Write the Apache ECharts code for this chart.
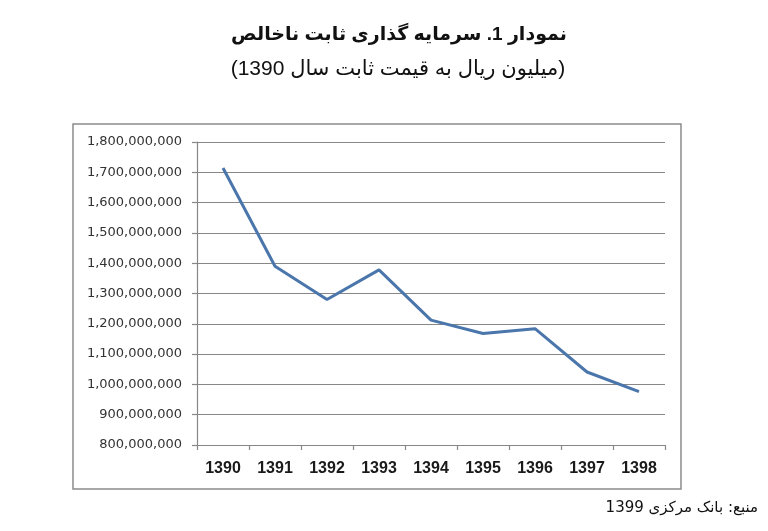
<!DOCTYPE html>
<html>
<head>
<meta charset="utf-8">
<script src="https://cdn.jsdelivr.net/npm/echarts@6/dist/echarts.min.js"></script>
<style>
html,body{margin:0;padding:0;background:#fff;}
#chart{width:768px;height:531px;}
</style>
</head>
<body>
<div id="chart"></div>
<script>
var titleText = 'نمودار 1. سرمایه گذاری ثابت ناخالص';
var subtitleText = '(میلیون ریال به قیمت ثابت سال 1390)';
var sourceText = 'منبع: بانک مرکزی 1399';

var years = ['1390', '1391', '1392', '1393', '1394', '1395', '1396', '1397', '1398'];
var investment = [1714000000, 1390000000, 1280000000, 1378000000, 1212000000, 1168000000, 1184000000, 1041000000, 976000000];
var yMin = 800000000;
var yMax = 1800000000;
var yStep = 100000000;

var chart = echarts.init(document.getElementById('chart'), null, {renderer: 'canvas'});
var axisGray = '#878787';
chart.setOption({
  backgroundColor: '#ffffff',
  animation: false,
  graphic: [
    {type: 'rect', shape: {x: 73, y: 124, width: 608, height: 365},
     style: {fill: 'none', stroke: '#8c8c8c', lineWidth: 1.5}},
    {type: 'text', x: 399, y: 35,
     style: {text: titleText, fill: '#111', font: 'bold 19px "Liberation Sans", "DejaVu Sans", sans-serif',
             align: 'center', verticalAlign: 'middle'}},
    {type: 'text', x: 398, y: 69,
     style: {text: subtitleText, fill: '#111', font: '21px "Liberation Sans", "DejaVu Sans", sans-serif',
             align: 'center', verticalAlign: 'middle'}},
    {type: 'text', x: 758, y: 508,
     style: {text: sourceText, fill: '#111', font: '15px "DejaVu Sans", sans-serif',
             align: 'right', verticalAlign: 'middle'}}
  ],
  grid: {left: 197, right: 103, top: 142, bottom: 86, containLabel: false},
  xAxis: {
    type: 'category',
    data: years,
    boundaryGap: true,
    axisLine: {show: true, lineStyle: {color: axisGray, width: 1.2}},
    axisTick: {show: true, length: 5, inside: false, alignWithLabel: false, lineStyle: {color: axisGray, width: 1.2}},
    axisLabel: {margin: 16, color: '#1a1a1a', fontSize: 16, fontWeight: 'bold', fontFamily: '"Liberation Sans", sans-serif'},
    splitLine: {show: false}
  },
  yAxis: {
    type: 'value',
    min: yMin,
    max: yMax,
    interval: yStep,
    axisLine: {show: true, lineStyle: {color: axisGray, width: 1.2}},
    axisTick: {show: true, length: 5, inside: false, lineStyle: {color: axisGray, width: 1.2}},
    axisLabel: {
      margin: 15, color: '#333333', fontSize: 13, fontFamily: '"DejaVu Sans", sans-serif',
      formatter: function (v) { return v.toLocaleString('en-US'); }
    },
    splitLine: {show: true, lineStyle: {color: axisGray, width: 1.2}}
  },
  series: [{
    type: 'line',
    data: investment,
    symbol: 'none',
    smooth: false,
    lineStyle: {color: '#4a76ab', width: 3},
    itemStyle: {color: '#4a76ab'}
  }]
});
</script>
</body>
</html>
